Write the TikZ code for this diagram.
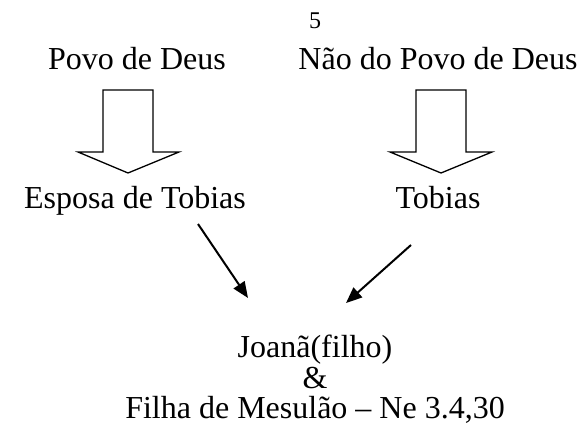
\documentclass[tikz,border=0pt]{standalone}
\usepackage{fontspec}
\setmainfont{Liberation Serif}
\usetikzlibrary{arrows.meta}
\tikzset{
  lbl/.style={inner sep=0pt, font=\fontsize{32}{37}\selectfont},
  pagenum/.style={inner sep=0pt, font=\fontsize{24}{28}\selectfont},
  blockarrow/.style={draw=black, line width=1.3pt, fill=white, line join=miter},
  link/.style={draw=black, line width=2pt, -{Triangle[length=16pt,width=13pt]}}
}
\begin{document}
\begin{tikzpicture}[x=1pt,y=-1pt]
\useasboundingbox (0,0) rectangle (585,430);
\node[pagenum, anchor=base] (num) at (315,29) {5};
\node[lbl, anchor=base] (povo) at (137,70) {Povo de Deus};
\node[lbl, anchor=base] (nao) at (438,70) {Não do Povo de Deus};
\node[lbl, anchor=base] (esposa) at (135,208) {Esposa de Tobias};
\node[lbl, anchor=base] (tobias) at (438,208) {Tobias};
\node[lbl, anchor=base] (joana) at (315,357) {Joanã(filho)};
\node[lbl, anchor=base] (amp) at (315,388) {\&};
\node[lbl, anchor=base] (filha) at (315,418) {Filha de Mesulão – Ne 3.4,30};
% block arrows
\draw[blockarrow] (103,90) -- (153,90) -- (153,152) -- (179,152) -- (128,173) -- (78,152) -- (103,152) -- cycle;
\draw[blockarrow] (416,90) -- (466,90) -- (466,152) -- (492,152) -- (441,173) -- (390,152) -- (416,152) -- cycle;
% connectors
\coordinate (s1) at (198,224);
\coordinate (t1) at (248,298);
\coordinate (s2) at (411,245);
\coordinate (t2) at (346,303);
\draw[link] (s1) -- (t1);
\draw[link] (s2) -- (t2);
\end{tikzpicture}
\end{document}
